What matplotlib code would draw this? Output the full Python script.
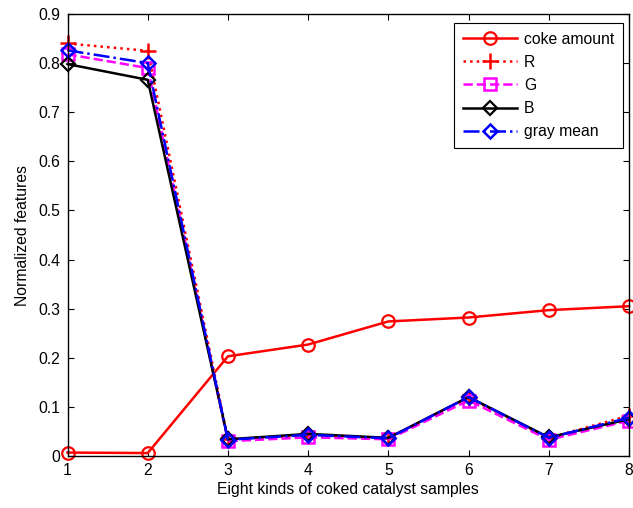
import matplotlib
matplotlib.use("Agg")
import matplotlib.pyplot as plt

plt.rcParams['font.family'] = ['Liberation Sans', 'DejaVu Sans']

samples = [1, 2, 3, 4, 5, 6, 7, 8]
coke = [0.007, 0.006, 0.203, 0.227, 0.274, 0.282, 0.297, 0.305]
R = [0.840, 0.825, 0.035, 0.040, 0.037, 0.118, 0.037, 0.082]
G = [0.818, 0.790, 0.030, 0.038, 0.034, 0.113, 0.033, 0.072]
B = [0.798, 0.766, 0.034, 0.045, 0.037, 0.120, 0.038, 0.075]
gray = [0.826, 0.800, 0.033, 0.043, 0.036, 0.120, 0.037, 0.078]

W, H = 633, 508
fig = plt.figure(figsize=(W / 100, H / 100), dpi=100)
x0, x1, yt, yb = 67.5, 629, 14, 456
ax = fig.add_axes([x0 / W, 1 - yb / H, (x1 - x0) / W, (yb - yt) / H])

fs = 11.3
lw = 1.8
kw = dict(clip_on=False)
ax.plot(samples, coke, '-o', color='red', lw=lw, ms=9, mfc='none', mew=1.6, label='coke amount', **kw)
ax.plot(samples, R, ':+', color='red', lw=lw, ms=11, mew=1.8, label='R', **kw)
ax.plot(samples, G, '--s', color='magenta', lw=lw, ms=8.5, mfc='none', mew=1.8, label='G', **kw)
ax.plot(samples, B, '-D', color='black', lw=lw, ms=7, mfc='none', mew=1.6, label='B', **kw)
ax.plot(samples, gray, '-.D', color='blue', lw=lw, ms=7.5, mfc='none', mew=1.8, label='gray mean', **kw)

ax.set_xlim(1, 8)
ax.set_ylim(0, 0.9)
ax.set_xticks(samples)
ax.set_yticks([0, 0.1, 0.2, 0.3, 0.4, 0.5, 0.6, 0.7, 0.8, 0.9])
ax.set_yticklabels(['0', '0.1', '0.2', '0.3', '0.4', '0.5', '0.6', '0.7', '0.8', '0.9'])
ax.tick_params(direction='in', top=True, right=True, labelsize=fs, length=4, pad=5)
for s in ax.spines.values():
    s.set_linewidth(1.0)
ax.set_xlabel('Eight kinds of coked catalyst samples', fontsize=fs, labelpad=3)
ax.set_ylabel('Normalized features', fontsize=fs, labelpad=6)

leg = ax.legend(loc='upper right', bbox_to_anchor=((623 - x0) / (x1 - x0), 1 - (23 - yt) / (yb - yt)),
                borderaxespad=0, fontsize=fs, fancybox=False, edgecolor='black',
                framealpha=1, handlelength=3.45, handletextpad=0.45, labelspacing=0.52,
                borderpad=0.55)
leg.get_frame().set_linewidth(0.8)

fig.savefig('out.png', dpi=100)
